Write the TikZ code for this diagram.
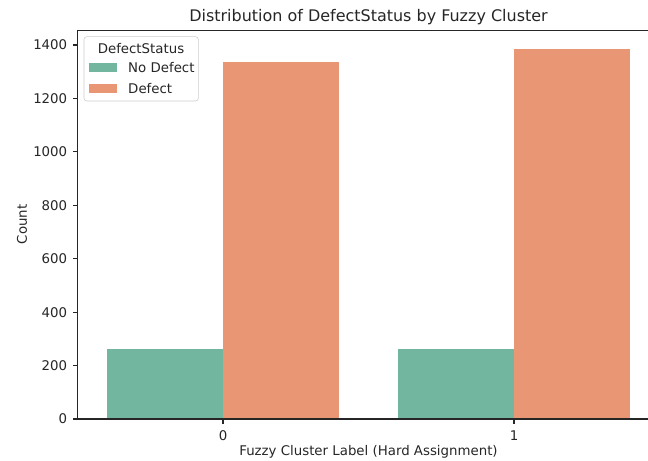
\documentclass[tikz,border=0pt]{standalone}
\usepackage{fontspec}
\setmainfont{DejaVu Sans}
\usepackage{xcolor}
\usetikzlibrary{positioning}
\definecolor{nodefect}{HTML}{72B6A0}
\definecolor{defect}{HTML}{E99675}
\newcommand{\ypx}[1]{419-0.26714*#1}

\begin{document}
\begin{tikzpicture}[x=0.72pt,y=-0.72pt,
  lbl/.style={font=\fontsize{9.6}{11.5}\selectfont,text=black!85,inner sep=0pt},
  spine/.style={line width=0.8pt,black!85},
  patch/.style={minimum width=19.9pt,minimum height=6.4pt,inner sep=0pt}]
\useasboundingbox (0,0) rectangle (648,461);
% bars
\fill[nodefect] (106.6,419) rectangle (223,{\ypx{261}});
\fill[defect] (223,419) rectangle (339.4,{\ypx{1337}});
\fill[nodefect] (397.6,419) rectangle (514,{\ypx{261}});
\fill[defect] (514,419) rectangle (630.4,{\ypx{1386}});
% axes
\draw[spine] (648,30.5) -| (77.5,419) -- (648,419);
\foreach \v in {0,200,...,1400}
  \draw[spine] (77.5,{\ypx{\v}}) -- ++(-4.9,0) node[lbl,left=3.5pt] (ytick\v) {\v};
\draw[spine] (223,419) -- ++(0,4.9) node[lbl,below=4.2pt] (xtick0) {0};
\draw[spine] (514,419) -- ++(0,4.9) node[lbl,below=4.2pt] (xtick1) {1};
\node[lbl] (xlabel) at (368.5,452) {Fuzzy Cluster Label (Hard Assignment)};
\node[lbl,rotate=90] (ylabel) at (22,224.5) {Count};
\node[lbl,font=\fontsize{11.5}{14}\selectfont,anchor=base] (title) at (368.5,21.5) {Distribution of DefectStatus by Fuzzy Cluster};
% legend
\draw[black!20,fill=white,rounded corners=2pt] (84,36.7) rectangle (198.3,101);
\node[lbl] (legtitle) at (141,48.5) {DefectStatus};
\node[patch,fill=nodefect] (patchA) at (102.9,67.8) {};
\node[patch,fill=defect] (patchB) at (102.9,88.3) {};
\node[lbl,right=7.9pt of patchA] (legA) {No Defect};
\node[lbl,right=7.9pt of patchB] (legB) {Defect};
\end{tikzpicture}
\end{document}
